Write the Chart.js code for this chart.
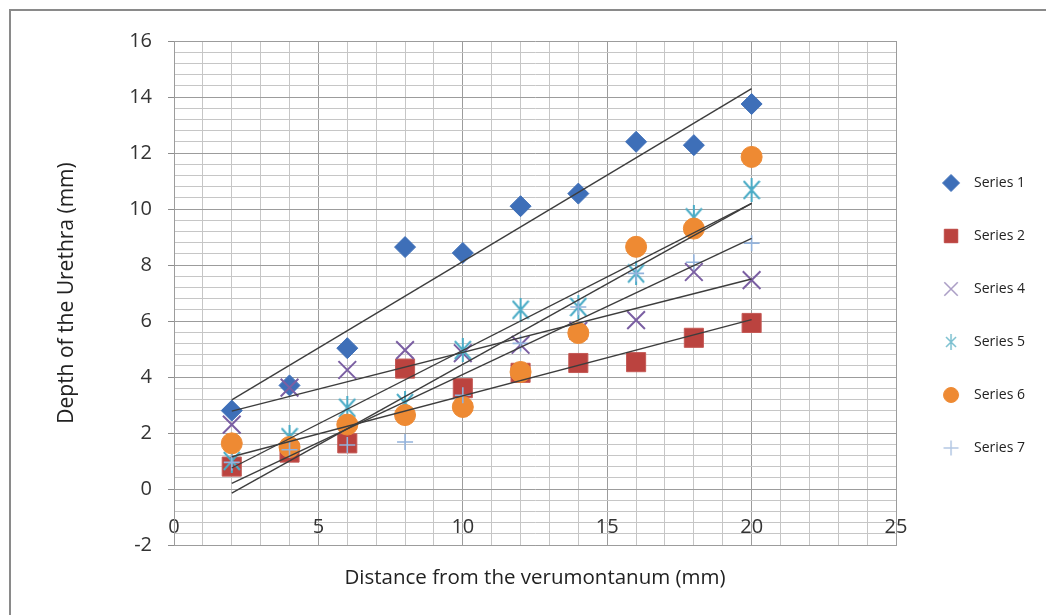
<!DOCTYPE html>
<html>
<head>
<meta charset="utf-8">
<script src="https://cdn.jsdelivr.net/npm/chart.js@4.4.1/dist/chart.umd.min.js"></script>
<style>
  html, body { margin: 0; padding: 0; background: #fff; }
  #wrap { position: relative; width: 1046px; height: 615px; overflow: hidden; }
  #frame { position: absolute; left: 9px; top: 9px; width: 1100px; height: 700px;
           border-left: 2px solid #8a8a8a; border-top: 2px solid #8a8a8a; }
  canvas { position: absolute; left: 0; top: 0; }
</style>
</head>
<body>
<div id="wrap">
  <div id="frame"></div>
  <canvas id="myChart" width="1046" height="615"></canvas>
</div>
<script>
// distance from the verumontanum (mm)
const distances = [2, 4, 6, 8, 10, 12, 14, 16, 18, 20];

// depth of the urethra (mm)
const series1 = [2.8, 3.7, 5.03, 8.64, 8.43, 10.1, 10.55, 12.4, 12.28, 13.75];
const series2 = [0.8, 1.3, 1.63, 4.3, 3.6, 4.15, 4.5, 4.53, 5.4, 5.93];
const series4 = [2.3, 3.62, 4.25, 4.96, 4.85, 5.15, 5.65, 6.03, 7.75, 7.46];
const series5 = [1.0, 1.85, 2.9, 3.07, 4.96, 6.4, 6.5, 7.7, 9.7, 10.68];
const series6 = [1.63, 1.5, 2.3, 2.64, 2.93, 4.18, 5.57, 8.65, 9.3, 11.86];
const series7 = [0.95, 1.4, 1.57, 1.68, 3.35, 5.2, 6.5, 7.7, 8.1, 8.78];

// linear trend lines, value at first and last distance
const trendX = [2, 20];
const trend1 = [3.18, 14.3];
const trend2 = [1.15, 6.05];
const trend4 = [2.78, 7.5];
const trend5 = [0.75, 10.2];
const trend6 = [-0.15, 10.2];
const trend7 = [0.2, 8.95];

const seriesLabels = ['Series 1', 'Series 2', 'Series 4', 'Series 5', 'Series 6', 'Series 7'];
const seriesColors = ['#3e6fb8', '#bb433f', '#7b5fa3', '#4bacc6', '#ee8a33', '#93b3dc'];

Chart.defaults.font.family = "'Open Sans', sans-serif";
Chart.defaults.color = '#333';

// excel style asterisk: an X with a vertical bar
function asterisk(w, h, color, lw) {
  const c = document.createElement('canvas');
  c.width = w;
  c.height = h;
  const g = c.getContext('2d');
  g.strokeStyle = color;
  g.lineWidth = lw;
  g.beginPath();
  g.moveTo(1, 3); g.lineTo(w - 1, h - 3);
  g.moveTo(w - 1, 3); g.lineTo(1, h - 3);
  g.moveTo(w / 2, 0); g.lineTo(w / 2, h);
  g.stroke();
  return c;
}
const starBig = asterisk(18, 24, seriesColors[3], 2);

// small legend markers (so the legend box can be wider without stretching them)
function icon(style, radius, color, lw) {
  const c = document.createElement('canvas');
  c.width = 24;
  c.height = 24;
  const g = c.getContext('2d');
  g.fillStyle = color;
  g.strokeStyle = color;
  g.lineWidth = lw;
  Chart.helpers.drawPoint(g, { pointStyle: style, radius: radius, borderWidth: lw, rotation: 0 }, 12, 12);
  return c;
}
const legendIcons = [
  icon('rectRot', 8.5, seriesColors[0], 1),
  icon('rect', 9.5, seriesColors[1], 1),
  icon('crossRot', 9.5, '#a99cc4', 1.5),
  asterisk(12, 16, '#7cc0d0', 1.5),
  icon('circle', 7.5, seriesColors[4], 1),
  icon('cross', 7.5, '#b4c8e4', 1.5)
];

const pts = (ys) => distances.map((x, i) => ({ x: x, y: ys[i] }));
const trend = (ys) => trendX.map((x, i) => ({ x: x, y: ys[i] }));

function trendSet(ys) {
  return {
    label: 'trend',
    data: trend(ys),
    showLine: true,
    borderColor: '#3d3d3d',
    borderWidth: 1.4,
    pointRadius: 0,
    order: 0
  };
}

const data = {
  datasets: [
    { label: seriesLabels[0], data: pts(series1), pointStyle: 'rectRot', pointRadius: 10.5,
      backgroundColor: seriesColors[0], borderColor: seriesColors[0], borderWidth: 1, order: 6 },
    { label: seriesLabels[1], data: pts(series2), pointStyle: 'rect', pointRadius: 13.5,
      backgroundColor: seriesColors[1], borderColor: '#c45a56', borderWidth: 1, order: 5 },
    { label: seriesLabels[2], data: pts(series4), pointStyle: 'crossRot', pointRadius: 12.5,
      backgroundColor: seriesColors[2], borderColor: seriesColors[2], borderWidth: 2, order: 4 },
    { label: seriesLabels[3], data: pts(series5), pointStyle: starBig,
      backgroundColor: seriesColors[3], borderColor: seriesColors[3], borderWidth: 2, order: 3 },
    { label: seriesLabels[4], data: pts(series6), pointStyle: 'circle', pointRadius: 10.5,
      backgroundColor: seriesColors[4], borderColor: seriesColors[4], borderWidth: 1, order: 2 },
    { label: seriesLabels[5], data: pts(series7), pointStyle: 'cross', pointRadius: 8,
      backgroundColor: seriesColors[5], borderColor: seriesColors[5], borderWidth: 1.6, order: 1 },
    trendSet(trend1),
    trendSet(trend2),
    trendSet(trend4),
    trendSet(trend5),
    trendSet(trend6),
    trendSet(trend7)
  ]
};

const isMajorY = (v) => Math.abs(v / 2 - Math.round(v / 2)) < 1e-6;
const isMajorX = (v) => Math.abs(v / 5 - Math.round(v / 5)) < 1e-6;
const MAJOR = '#9c9c9c';
const MINOR = '#c6c6c6';

const config = {
  type: 'scatter',
  data: data,
  options: {
    responsive: false,
    animation: false,
    layout: { padding: { top: 41, right: 11, bottom: 0, left: 0 } },
    plugins: {
      tooltip: { enabled: false },
      legend: {
        position: 'right',
        align: 'start',
        title: { display: true, text: ' ', font: { size: 10 }, padding: { top: 0, bottom: 84 } },
        labels: {
          usePointStyle: true,
          pointStyleWidth: 32,
          boxHeight: 12,
          padding: 39,
          color: '#222',
          font: { size: 14 },
          filter: (item) => item.text !== 'trend',
          sort: (a, b) => a.datasetIndex - b.datasetIndex,
          generateLabels: (chart) => {
            const items = Chart.defaults.plugins.legend.labels.generateLabels(chart);
            items.forEach((it) => {
              if (legendIcons[it.datasetIndex]) it.pointStyle = legendIcons[it.datasetIndex];
            });
            return items;
          }
        }
      }
    },
    scales: {
      x: {
        type: 'linear',
        position: 'bottom',
        min: 0,
        max: 25,
        afterFit: (s) => { s.height = 70; },
        ticks: {
          stepSize: 1,
          autoSkip: false,
          maxRotation: 0,
          mirror: true,
          padding: 6,
          color: '#333',
          font: { size: 20 },
          callback: (v) => (isMajorX(v) ? v : '')
        },
        grid: {
          drawTicks: false,
          color: (ctx) => (isMajorX(ctx.tick.value) ? MAJOR : MINOR),
          lineWidth: 1
        },
        border: { color: MAJOR },
        title: {
          display: true,
          text: 'Distance from the verumontanum (mm)',
          color: '#222',
          font: { size: 20.5 },
          padding: { top: 0, bottom: 25 }
        }
      },
      y: {
        type: 'linear',
        min: -2,
        max: 16,
        afterFit: (s) => { s.width = 174; },
        ticks: {
          stepSize: 0.4,
          autoSkip: false,
          padding: 16,
          color: '#333',
          font: { size: 20 },
          callback: (v) => (isMajorY(v) ? v : '')
        },
        grid: {
          tickLength: 6,
          tickColor: (ctx) => (isMajorY(ctx.tick.value) ? '#8c8c8c' : 'rgba(0,0,0,0)'),
          color: (ctx) => (isMajorY(ctx.tick.value) ? MAJOR : MINOR),
          lineWidth: 1
        },
        border: { color: MAJOR },
        title: {
          display: true,
          text: 'Depth of the Urethra (mm)',
          color: '#222',
          font: { size: 21 },
          padding: { top: 54, bottom: 0 }
        }
      }
    }
  }
};

const myChart = new Chart(document.getElementById('myChart'), config);
</script>
</body>
</html>
